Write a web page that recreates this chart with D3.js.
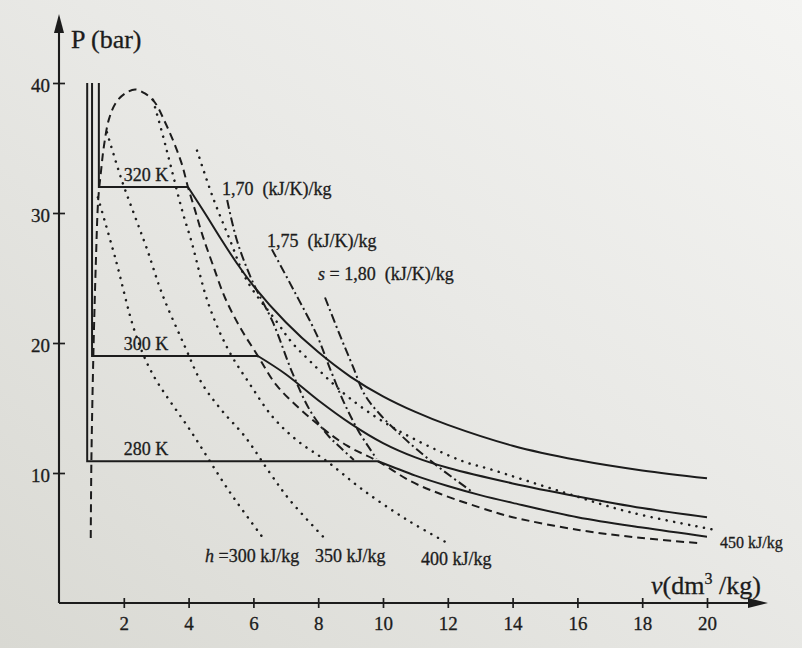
<!DOCTYPE html>
<html>
<head>
<meta charset="utf-8">
<script src="https://cdn.jsdelivr.net/npm/d3@7"></script>
<style>
  html, body { margin: 0; padding: 0; background: #e6e6e2; }
  svg { display: block; }
  text { font-family: "Liberation Serif", "Times New Roman", serif; fill: #1c1c1c; stroke: #1c1c1c; stroke-width: 0.3; }
</style>
</head>
<body>
<svg id="graph" width="802" height="648"></svg>
<script>
// axis ticks
const vTicks = [2, 4, 6, 8, 10, 12, 14, 16, 18, 20];
const pTicks = [10, 20, 30, 40];

// isotherms: liquid branch + plateau, then vapour branch [v, P]
const temps = ["280 K", "300 K", "320 K"];
const pSat = [10.9, 19.0, 32.0];
const vLiquid = [0.87, 1.02, 1.23];
const vapor280 = [[9.85, 10.9], [11, 9.8], [12, 9.0], [13, 8.3], [14, 7.7], [16, 6.6], [18, 5.8], [20, 5.1]];
const vapor300 = [[6.14, 19.0], [7, 17.6], [8, 15.6], [9, 13.8], [10, 12.3], [11, 11.2], [12, 10.4], [14, 9.2], [16, 8.2], [18, 7.3], [20, 6.6]];
const vapor320 = [[3.98, 32.0], [4.5, 30.0], [5, 28.0], [5.5, 26.1], [6, 24.4], [7, 21.6], [8, 19.3], [9, 17.4], [10, 15.9], [11, 14.7], [12, 13.7], [14, 12.1], [16, 11.0], [18, 10.2], [20, 9.6]];

// saturation dome
const dome = [[0.98, 5.0], [1.0, 11.0], [1.06, 19.0], [1.14, 26.4], [1.21, 31.0], [1.30, 33.3], [1.39, 35.2], [1.54, 37.2], [1.76, 38.5], [2.04, 39.2], [2.35, 39.5], [2.65, 39.2], [2.96, 38.5], [3.27, 37.0], [3.55, 35.4], [3.80, 33.7], [3.98, 32.0], [4.20, 30.2], [4.44, 28.2], [4.75, 26.0], [5.12, 23.5], [5.59, 21.2], [6.14, 19.0], [6.73, 16.7], [7.96, 13.8], [8.89, 12.1], [9.85, 10.9], [10.83, 9.4], [11.76, 8.4], [13.3, 7.1], [14.0, 6.6], [16.08, 5.6], [18, 5.0], [19.78, 4.6]];

// isenthalps (kJ/kg)
const h300 = [[1.20, 31.2], [1.73, 26.6], [2.35, 20.8], [2.87, 17.7], [4.10, 13.1], [5.28, 8.5], [6.27, 5.1]];
const h350 = [[1.48, 36.2], [1.94, 32.5], [2.35, 29.7], [2.72, 27.2], [3.18, 23.8], [3.89, 19.7], [4.41, 16.9], [5.03, 14.8], [5.74, 12.8], [6.51, 10.0], [7.13, 7.9], [8.15, 5.1]];
const h400 = [[2.90, 38.7], [3.18, 36.2], [3.43, 33.8], [3.80, 30.2], [4.10, 27.7], [4.60, 23.1], [5.22, 19.5], [5.90, 16.8], [6.60, 14.3], [7.35, 12.5], [8.27, 10.9], [9.38, 8.7], [10.74, 6.4], [12.07, 4.5]];
const h450 = [[4.26, 34.8], [4.75, 31.2], [5.28, 27.9], [5.80, 24.8], [6.73, 21.6], [7.2, 20.0], [7.75, 18.6], [8.4, 17.0], [9.0, 15.7], [9.91, 14.1], [11.05, 12.5], [12.47, 10.9], [13.3, 10.3], [15.46, 8.6], [17.6, 7.0], [20.3, 5.6]];

// isentropes (kJ/K)/kg
const s170 = [[5.19, 31.0], [5.49, 27.9], [5.96, 24.8], [6.6, 21.6], [7.22, 17.6], [7.75, 14.8], [8.3, 12.9], [8.67, 12.0], [9.1, 11.0]];
const s175 = [[6.57, 27.2], [7.3, 23.8], [7.96, 20.6], [8.4, 17.8], [8.8, 15.4], [9.25, 13.2], [9.8, 11.1]];
const s180 = [[8.21, 23.5], [8.67, 20.6], [9.07, 18.2], [9.44, 16.0], [9.91, 14.5], [10.43, 13.2], [11.05, 11.8], [11.85, 10.2], [12.78, 8.5]];

const ink = "#1c1c1c";
const serif = '"Liberation Serif", "Times New Roman", serif';

const svg = d3.select("#graph");

// scanned paper tone
const defs = svg.append("defs");
const grad = defs.append("linearGradient").attr("id", "paper")
    .attr("x1", "0").attr("y1", "1").attr("x2", "1").attr("y2", "0");
grad.append("stop").attr("offset", "0").attr("stop-color", "#d9d9d3");
grad.append("stop").attr("offset", "0.55").attr("stop-color", "#e9e9e6");
grad.append("stop").attr("offset", "1").attr("stop-color", "#f4f4f2");
svg.append("rect").attr("width", 802).attr("height", 648).attr("fill", "url(#paper)");

const x = d3.scaleLinear().domain([0, 20]).range([59, 707]);
const y = d3.scaleLinear().domain([0, 40]).range([603, 83]);

const straight = d3.line().x(d => x(d[0])).y(d => y(d[1]));
const smooth = d3.line().x(d => x(d[0])).y(d => y(d[1])).curve(d3.curveCatmullRom.alpha(0.5));

// axes
const yAxis = svg.append("g")
    .attr("transform", `translate(${x(0)},0)`)
    .call(d3.axisLeft(y).tickValues(pTicks).tickSizeInner(6).tickSizeOuter(0).tickPadding(3));
yAxis.select(".domain").remove();
yAxis.attr("font-family", serif).attr("font-size", 19);
yAxis.selectAll(".tick line").attr("x1", -6).attr("x2", 6).attr("stroke", ink).attr("stroke-width", 1.7);
yAxis.selectAll(".tick text").attr("fill", ink).attr("dy", "0.45em");

const xAxis = svg.append("g")
    .attr("transform", `translate(0,${y(0)})`)
    .call(d3.axisBottom(x).tickValues(vTicks).tickSizeInner(5).tickSizeOuter(0).tickPadding(9));
xAxis.select(".domain").remove();
xAxis.attr("font-family", serif).attr("font-size", 19);
xAxis.selectAll(".tick line").attr("y1", -5).attr("y2", 5).attr("stroke", ink).attr("stroke-width", 1.7);
xAxis.selectAll(".tick text").attr("fill", ink);

svg.append("line")
    .attr("x1", x(0)).attr("y1", y(0)).attr("x2", x(0)).attr("y2", 28)
    .attr("stroke", ink).attr("stroke-width", 2.1);
svg.append("path")
    .attr("d", `M${x(0)},14 L${x(0) - 5},33 L${x(0) + 5},33 Z`)
    .attr("fill", ink);
svg.append("line")
    .attr("x1", x(0)).attr("y1", y(0)).attr("x2", 752).attr("y2", y(0))
    .attr("stroke", ink).attr("stroke-width", 2.1);
svg.append("path")
    .attr("d", `M768,${y(0)} L748,${y(0) - 5} L748,${y(0) + 5} Z`)
    .attr("fill", ink);

svg.append("text").attr("x", 71).attr("y", 48).attr("font-size", 26).text("P (bar)");

const vLabel = svg.append("text").attr("x", 651).attr("y", 594).attr("font-size", 26);
vLabel.append("tspan").attr("font-style", "italic").text("v");
vLabel.append("tspan").text("(dm");
vLabel.append("tspan").attr("font-size", 16).attr("dy", -10).text("3");
vLabel.append("tspan").attr("dy", 10).text(" /kg)");

// saturation dome
svg.append("path")
    .attr("d", smooth(dome))
    .attr("fill", "none").attr("stroke", ink).attr("stroke-width", 2)
    .attr("stroke-dasharray", "8,5");

// isenthalps
[h300, h350, h400, h450].forEach((pts) => {
    svg.append("path")
        .attr("d", smooth(pts))
        .attr("fill", "none").attr("stroke", ink).attr("stroke-width", 2.5)
        .attr("stroke-linecap", "round")
        .attr("stroke-dasharray", "0.1,7.5");
});

// isentropes
[s170, s175, s180].forEach((pts) => {
    svg.append("path")
        .attr("d", smooth(pts))
        .attr("fill", "none").attr("stroke", ink).attr("stroke-width", 2)
        .attr("stroke-dasharray", "9,3.5,2,3.5");
});

// isotherms
const vapors = [vapor280, vapor300, vapor320];
temps.forEach((t, i) => {
    const plateau = [[vLiquid[i], 40], [vLiquid[i], pSat[i]], vapors[i][0]];
    svg.append("path")
        .attr("d", straight(plateau))
        .attr("fill", "none").attr("stroke", ink).attr("stroke-width", 2);
    svg.append("path")
        .attr("d", smooth(vapors[i]))
        .attr("fill", "none").attr("stroke", ink).attr("stroke-width", 2);
    svg.append("text")
        .attr("x", x(2.0)).attr("y", y(pSat[i]) - 6)
        .attr("font-size", 18).text(t);
});

// line labels
svg.append("text").attr("x", 222).attr("y", 195).attr("font-size", 18)
    .attr("xml:space", "preserve").text("1,70  (kJ/K)/kg");
svg.append("text").attr("x", 267).attr("y", 247).attr("font-size", 18)
    .attr("xml:space", "preserve").text("1,75  (kJ/K)/kg");
const sLab = svg.append("text").attr("x", 318).attr("y", 280).attr("font-size", 18)
    .attr("xml:space", "preserve");
sLab.append("tspan").attr("font-style", "italic").text("s");
sLab.append("tspan").text(" = 1,80  (kJ/K)/kg");

const hLab = svg.append("text").attr("x", 205).attr("y", 562).attr("font-size", 18);
hLab.append("tspan").attr("font-style", "italic").text("h");
hLab.append("tspan").text(" =300 kJ/kg");
svg.append("text").attr("x", 315).attr("y", 562).attr("font-size", 18).text("350 kJ/kg");
svg.append("text").attr("x", 421).attr("y", 565).attr("font-size", 18).text("400 kJ/kg");
svg.append("text").attr("x", 720).attr("y", 548).attr("font-size", 16).text("450 kJ/kg");
</script>
</body>
</html>
